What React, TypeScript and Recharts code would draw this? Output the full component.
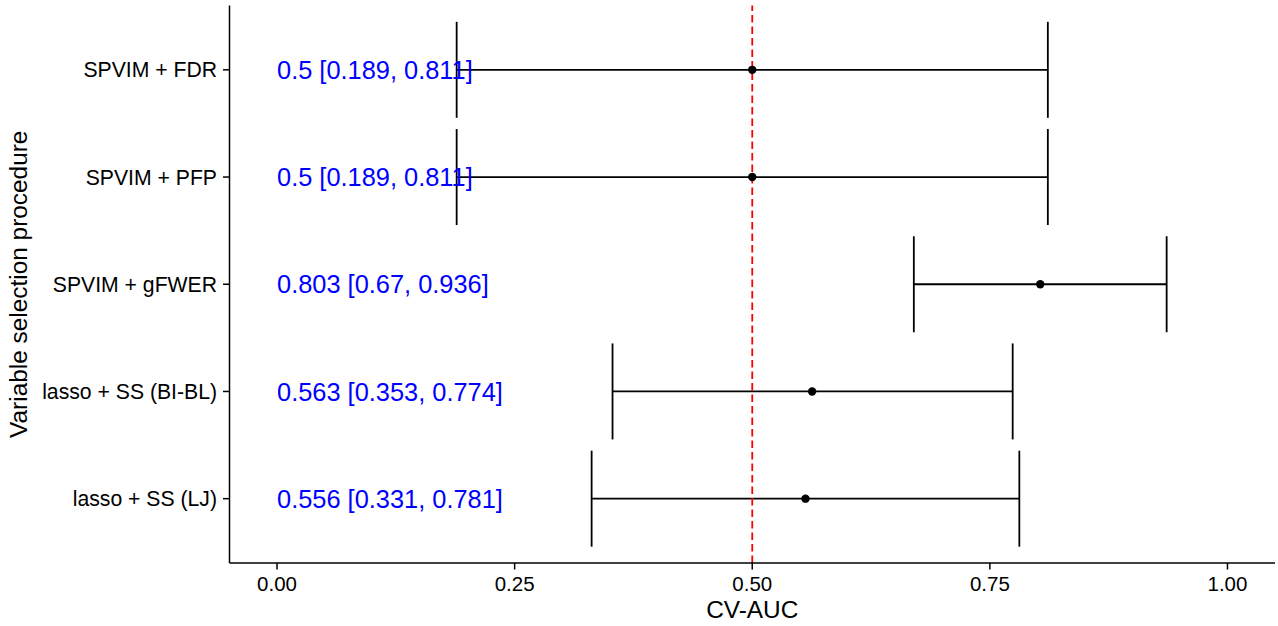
import React from 'react';
import { ScatterChart, Scatter, XAxis, YAxis, ErrorBar, ReferenceLine } from 'recharts';

const procedures = [
  'SPVIM + FDR',
  'SPVIM + PFP',
  'SPVIM + gFWER',
  'lasso + SS (BI-BL)',
  'lasso + SS (LJ)',
];
const estimates = [0.5, 0.5, 0.803, 0.563, 0.556];
const lowerCI = [0.189, 0.189, 0.67, 0.353, 0.331];
const upperCI = [0.811, 0.811, 0.936, 0.774, 0.781];
const labelTexts = [
  '0.5 [0.189, 0.811]',
  '0.5 [0.189, 0.811]',
  '0.803 [0.67, 0.936]',
  '0.563 [0.353, 0.774]',
  '0.556 [0.331, 0.781]',
];
const labelX = 0;
const xTicks = [0, 0.25, 0.5, 0.75, 1];
const referenceAUC = 0.5;

const FONT = '"Liberation Sans", Arial, Helvetica, sans-serif';

const pointData = procedures.map((p, i) => ({
  name: p,
  x: estimates[i],
  y: i + 1,
  err: [estimates[i] - lowerCI[i], upperCI[i] - estimates[i]],
}));
const textData = procedures.map((p, i) => ({ name: p, x: labelX, y: i + 1, text: labelTexts[i] }));
const yTicks = procedures.map((_, i) => i + 1);

const YTitle = (props: any) => {
  const vb = props.viewBox || {};
  const cx = (vb.x ?? 0) + 27;
  const cy = (vb.y ?? 0) + (vb.height ?? 0) / 2;
  return (
    <text
      x={cx}
      y={cy}
      transform={`rotate(-90, ${cx}, ${cy})`}
      textAnchor="middle"
      fontSize={24.4}
      fontFamily={FONT}
      fill="#000"
    >
      Variable selection procedure
    </text>
  );
};

const XTitle = (props: any) => {
  const vb = props.viewBox || {};
  const cx = (vb.x ?? 0) + (vb.width ?? 0) / 2;
  const cy = (vb.y ?? 0) + 55;
  return (
    <text x={cx} y={cy} textAnchor="middle" fontSize={24.4} fontFamily={FONT} fill="#000">
      CV-AUC
    </text>
  );
};

const TextShape = (props: any) => {
  const { cx, cy, payload } = props;
  return (
    <text x={cx} y={cy} dy="0.36em" textAnchor="start" fontSize={25.4} fontFamily={FONT} fill="#0000FF">
      {payload.text}
    </text>
  );
};

const DotShape = (props: any) => {
  const { cx, cy } = props;
  return <circle cx={cx} cy={cy} r={4.2} fill="#000" />;
};

export default function App() {
  return (
    <div style={{ position: 'absolute', left: 0, top: 0, width: 1278, height: 626, background: '#fff' }}>
      <ScatterChart
        width={1278}
        height={626}
        margin={{ top: 5.5, right: 3, bottom: 0, left: 0 }}
        style={{ fontFamily: FONT }}
      >
        <XAxis
          type="number"
          dataKey="x"
          domain={[-0.05, 1.05]}
          ticks={xTicks}
          allowDataOverflow
          tickFormatter={(v: number) => v.toFixed(2)}
          height={63}
          tickSize={6.5}
          tickMargin={7}
          axisLine={{ stroke: '#000', strokeWidth: 1.5 }}
          tickLine={{ stroke: '#000', strokeWidth: 1.5 }}
          tick={{ fill: '#000', fontSize: 20.5, fontFamily: FONT }}
          label={<XTitle />}
        />
        <YAxis
          type="number"
          dataKey="y"
          domain={[0.4, 5.6]}
          ticks={yTicks}
          reversed
          allowDataOverflow
          tickFormatter={(v: number) => procedures[v - 1] ?? ''}
          width={229.5}
          tickSize={6.5}
          tickMargin={6}
          axisLine={{ stroke: '#000', strokeWidth: 1.5 }}
          tickLine={{ stroke: '#000', strokeWidth: 1.5 }}
          tick={{ fill: '#000', fontSize: 21.2, fontFamily: FONT }}
          label={<YTitle />}
        />
        <Scatter data={textData} isAnimationActive={false} shape={<TextShape />} />
        <Scatter data={pointData} isAnimationActive={false} shape={<DotShape />}>
          <ErrorBar dataKey="err" direction="x" width={48} stroke="#000" strokeWidth={1.8} />
        </Scatter>
        <ReferenceLine x={referenceAUC} stroke="#FF0000" strokeWidth={1.8} strokeDasharray="7.5 4" />
      </ScatterChart>
    </div>
  );
}
